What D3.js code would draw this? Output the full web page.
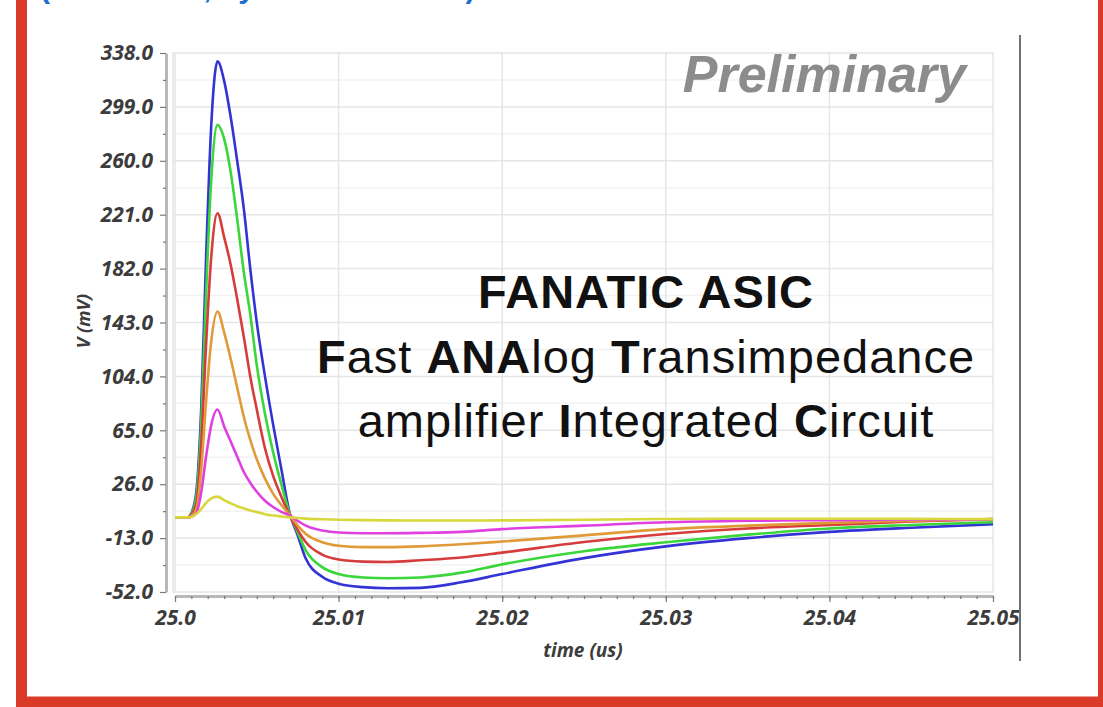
<!DOCTYPE html>
<html>
<head>
<meta charset="utf-8">
<script src="https://cdn.jsdelivr.net/npm/d3@7"></script>
<style>
body { margin: 0; background: #fff; }
.tick text { font-family: "Open Sans", sans-serif; font-weight: bold; font-style: italic; font-size: 21px; fill: #3c3c3c; }
</style>
</head>
<body>
<script>
var W = 1103, H = 707;

// time points (us)
var times = [25.0, 25.0008, 25.0010, 25.0013, 25.0016, 25.0019, 25.0022, 25.0026, 25.0030, 25.0034, 25.0038,
    25.0042, 25.0046, 25.0050, 25.0055, 25.0060, 25.0065, 25.0070, 25.0075, 25.0080, 25.0090, 25.0100,
    25.0115, 25.0130, 25.0150, 25.0175, 25.0200, 25.0250, 25.0300, 25.0350, 25.0400, 25.0450, 25.0500];

// output voltage (mV), one array per input charge
var vBlue    = [2, 2, 5, 20, 80, 190, 282, 332, 318, 292, 260, 226, 182, 143, 104, 69, 37, 5.5, -11, -28, -41, -46, -48.5, -49.3, -49, -45, -39, -27.5, -19, -13, -8.5, -5.5, -3];
var vGreen   = [2, 2, 4.5, 17, 69, 164, 243, 286, 276, 252, 218, 180, 149, 112, 77, 49, 26, 5, -9, -22, -34, -39, -41.5, -42, -41.5, -38, -32, -22.5, -16, -10.5, -6, -3.5, -1.5];
var vRed     = [2, 2, 4, 12, 54, 127, 188, 222, 205, 185, 160, 133, 104, 80, 52, 32, 17, 4, -7, -16, -25, -28.5, -30, -30.3, -29, -27, -23.5, -15.8, -10, -6, -3.5, -1, 0.7];
var vOrange  = [2, 2, 3, 8, 36, 86, 128, 151, 136, 117, 96, 75, 58, 44, 30, 19, 11, 4, -4, -10, -16, -18.5, -19.5, -19.5, -19, -17.5, -15.5, -11, -6.5, -4, -2, -0.5, 0.7];
var vMagenta = [2, 2, 2.5, 5, 20, 46, 68, 80, 68, 57, 46, 35, 27, 20.5, 14, 9.5, 6, 3.5, -0.5, -4, -7.5, -9, -9.5, -9.5, -9.2, -8.5, -6.5, -4, -1.5, -0.5, 0, 0.3, 0.5];
var vYellow  = [2, 2, 2.5, 4.5, 8, 12.5, 15.5, 17, 14.5, 12.2, 10.1, 8.5, 7, 5.8, 4.3, 3.3, 2.6, 2, 1.5, 1.1, 0.6, 0.3, 0, -0.2, -0.3, -0.3, -0.2, 0.3, 0.8, 1, 1, 0.9, 0.7];

var seriesColors = ["#3434d6", "#3ad63a", "#d63c3c", "#e09a38", "#e040e0", "#d8d83c"];

var yTicks = [-52, -13, 26, 65, 104, 143, 182, 221, 260, 299, 338];
var yTickLabels = ["-52.0", "-13.0", "26.0", "65.0", "104.0", "143.0", "182.0", "221.0", "260.0", "299.0", "338.0"];
var xTicks = [25.0, 25.01, 25.02, 25.03, 25.04, 25.05];
var xTickLabels = ["25.0", "25.01", "25.02", "25.03", "25.04", "25.05"];

var series = [vBlue, vGreen, vRed, vOrange, vMagenta, vYellow].map(function (vals, i) {
    return { color: seriesColors[i], values: vals.map(function (v, j) { return [times[j], v]; }) };
});

var svg = d3.select("body").append("svg")
    .attr("width", W)
    .attr("height", H)
    .style("display", "block");

var x = d3.scaleLinear().domain([25.0, 25.05]).range([175, 993]);
var y = d3.scaleLinear().domain([-52, 338]).range([592, 53]);

// partly cut caption at the top (cut in the reference too)
svg.append("text")
    .attr("x", 40)
    .attr("y", -2)
    .style("font-family", "Liberation Sans, Arial, sans-serif")
    .style("font-weight", "bold")
    .style("font-size", "30px")
    .style("fill", "#1f6fce")
    .text("(Simulation, by the ASIC team)");

// grid
var yMinor = d3.range(-52, 338.1, 19.5);
svg.append("g").selectAll("line")
    .data(yMinor)
    .enter().append("line")
    .attr("x1", 173).attr("x2", 993)
    .attr("y1", function (d) { return y(d); })
    .attr("y2", function (d) { return y(d); })
    .attr("stroke", function (d, i) { return i % 2 ? "#f2f2f2" : "#e6e6e6"; })
    .attr("stroke-width", 1.5);

svg.append("g").selectAll("line")
    .data(xTicks)
    .enter().append("line")
    .attr("x1", function (d) { return x(d); })
    .attr("x2", function (d) { return x(d); })
    .attr("y1", 52).attr("y2", 593)
    .attr("stroke", "#e6e6e6")
    .attr("stroke-width", 1.5);

svg.append("line").attr("x1", 173).attr("x2", 173).attr("y1", 52).attr("y2", 593)
    .attr("stroke", "#e6e6e6").attr("stroke-width", 1.5);

// Y axis
svg.append("g")
    .attr("transform", "translate(166,0)")
    .call(d3.axisLeft(y).tickValues(yTicks).tickSize(6).tickPadding(7).tickSizeOuter(0)
        .tickFormat(function (d, i) { return yTickLabels[i]; }));
svg.append("g")
    .attr("transform", "translate(166,0)")
    .call(d3.axisLeft(y).tickValues(yMinor.filter(function (d, i) { return i % 2; }))
        .tickSize(3).tickSizeOuter(0).tickFormat(""))
    .select(".domain").remove();

// X axis
svg.append("g")
    .attr("transform", "translate(0,596)")
    .call(d3.axisBottom(x).tickValues(xTicks).tickSize(6).tickPadding(8).tickSizeOuter(0)
        .tickFormat(function (d, i) { return xTickLabels[i]; }));
svg.append("g")
    .attr("transform", "translate(0,596)")
    .call(d3.axisBottom(x).tickValues(d3.range(0, 51).map(function (i) { return 25 + i * 0.001; }))
        .tickSize(3).tickSizeOuter(0).tickFormat(""))
    .select(".domain").remove();

svg.selectAll(".domain").attr("stroke", "#b8b8b8").attr("stroke-width", 3);
svg.selectAll(".tick line").attr("stroke", "#7a7a7a").attr("stroke-width", 1.2);

// axis titles
svg.append("text")
    .attr("x", 583)
    .attr("y", 657)
    .attr("text-anchor", "middle")
    .style("font-family", "Open Sans, sans-serif")
    .style("font-weight", "bold")
    .style("font-style", "italic")
    .style("font-size", "19px")
    .style("fill", "#3c3c3c")
    .text("time (us)");

svg.append("text")
    .attr("transform", "translate(90,321) rotate(-90)")
    .attr("text-anchor", "middle")
    .style("font-family", "Open Sans, sans-serif")
    .style("font-weight", "bold")
    .style("font-style", "italic")
    .style("font-size", "18px")
    .style("fill", "#3c3c3c")
    .text("V (mV)");

// curves
var line = d3.line()
    .x(function (d) { return x(d[0]); })
    .y(function (d) { return y(d[1]); })
    .curve(d3.curveMonotoneX);

svg.append("g").selectAll("path")
    .data(series)
    .enter().append("path")
    .attr("d", function (d) { return line(d.values); })
    .attr("fill", "none")
    .attr("stroke", function (d) { return d.color; })
    .attr("stroke-width", 2.6)
    .attr("stroke-linejoin", "round");

// watermark
svg.append("text")
    .attr("x", 966)
    .attr("y", 92)
    .attr("text-anchor", "end")
    .style("font-family", "Liberation Sans, Arial, sans-serif")
    .style("font-weight", "bold")
    .style("font-style", "italic")
    .style("font-size", "52px")
    .style("fill", "#8c8c8c")
    .text("Preliminary");

// title block
var title = svg.append("text")
    .attr("text-anchor", "middle")
    .style("font-family", "Liberation Sans, Arial, sans-serif")
    .style("font-size", "47px")
    .style("letter-spacing", "1px")
    .style("white-space", "pre")
    .style("fill", "#111");

var titleLines = [
    [["FANATIC ASIC", true]],
    [["F", true], ["ast ", false], ["ANA", true], ["log ", false], ["T", true], ["ransimpedance", false]],
    [["amplifier ", false], ["I", true], ["ntegrated ", false], ["C", true], ["ircuit", false]]
];
var baselines = [308, 373, 437];
titleLines.forEach(function (parts, li) {
    parts.forEach(function (p, pi) {
        var ts = title.append("tspan")
            .style("font-weight", p[1] ? "bold" : "normal")
            .text(p[0]);
        if (pi === 0) ts.attr("x", 646).attr("y", baselines[li]);
    });
});

// divider line on the right
svg.append("line")
    .attr("x1", 1020).attr("x2", 1020)
    .attr("y1", 35).attr("y2", 661)
    .attr("stroke", "#707070")
    .attr("stroke-width", 2);

// red frame
svg.append("rect")
    .attr("x", 21.5)
    .attr("y", -100)
    .attr("width", 1082)
    .attr("height", 802)
    .attr("fill", "none")
    .attr("stroke", "#da3a27")
    .attr("stroke-width", 11);
</script>
</body>
</html>
